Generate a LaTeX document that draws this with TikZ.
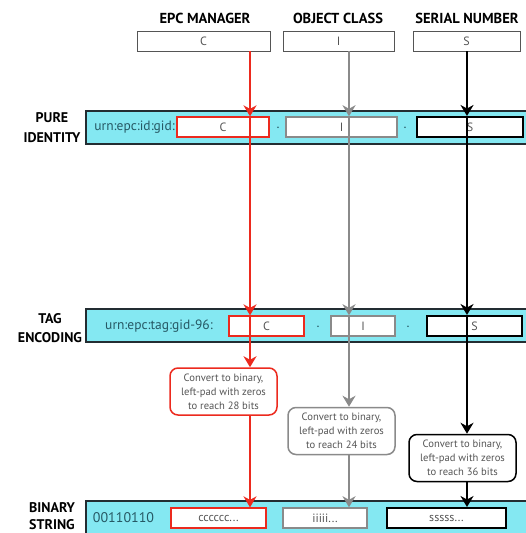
\documentclass[tikz,border=0pt]{standalone}
\usepackage{fontspec}
\setmainfont{PT Sans}
\usetikzlibrary{arrows.meta,positioning,calc}

\definecolor{bandcyan}{RGB}{132,232,242}
\definecolor{bandline}{RGB}{35,45,50}
\definecolor{epcred}{RGB}{236,42,30}
\definecolor{epcgray}{RGB}{138,138,138}
\definecolor{urnteal}{RGB}{38,88,100}
\definecolor{boxtext}{RGB}{85,85,85}

\begin{document}
\begin{tikzpicture}[
    x=1pt, y=-1pt,
    >={Stealth[length=11pt,width=13pt,inset=3.5pt]},
    font=\fontsize{12}{14}\selectfont,
    every node/.style={align=center, inner sep=0pt},
    headlabel/.style={font=\fontsize{14.5}{16}\selectfont\bfseries},
    rowlabel/.style={font=\fontsize{14}{19.5}\selectfont\bfseries},
    urnlabel/.style={text=urnteal, font=\fontsize{13.5}{15}\selectfont, anchor=east},
    bandbox/.style={draw=bandline, fill=bandcyan, line width=1.5pt, minimum width=460pt, minimum height=33pt, anchor=west},
    headbox/.style={draw=boxtext, fill=white, line width=0.9pt, minimum height=20pt, text=boxtext},
    fieldboxA/.style={draw=epcred, fill=white, line width=1.3pt, minimum height=20pt, text=boxtext},
    fieldboxB/.style={draw=epcgray, fill=white, line width=1.5pt, minimum height=20pt, text=boxtext},
    fieldboxC/.style={draw=black, fill=white, line width=2pt, minimum height=20pt, text=boxtext},
    convboxA/.style={draw=epcred, fill=white, line width=1.5pt, rounded corners=8pt, minimum width=107pt, minimum height=47pt, text=boxtext, font=\fontsize{10.6}{14}\selectfont},
    convboxB/.style={convboxA, draw=epcgray},
    convboxC/.style={convboxA, draw=black},
    dotsep/.style={text=urnteal, font=\bfseries},
    wireA/.style={draw=epcred, line width=1.6pt, ->},
    wireB/.style={draw=epcgray, line width=1.6pt, ->},
    wireC/.style={draw=black, line width=1.6pt, ->}
]

\useasboundingbox (0,0) rectangle (526,533);
\clip (0,0) rectangle (526,533);

% -------------------------------------------------
% FIELD HEADERS
% -------------------------------------------------
\node[headlabel] at (205, 18) {EPC MANAGER};
\node[headlabel] at (338, 18) {OBJECT CLASS};
\node[headlabel] at (467, 18) {SERIAL NUMBER};

\node[headbox, minimum width=133pt] (hC) at (203.5, 41) {C};
\node[headbox, minimum width=111pt] (hI) at (338.5, 41) {I};
\node[headbox, minimum width=107pt] (hS) at (466.5, 41) {S};

% wire columns
\coordinate (xC) at (250, 0);
\coordinate (xI) at (349, 0);
\coordinate (xS) at (467, 0);

% =================================================
% PURE IDENTITY
% =================================================
\node[rowlabel] at (52, 127.5) {PURE\\IDENTITY};
\node[bandbox] (pure) at (85, 127.5) {};
\node[urnlabel] at (175, 127) {urn:epc:id:gid:};
\node[fieldboxA, minimum width=92pt] (pC) at (223, 127) {C};
\node[dotsep] at (278, 128) {.};
\node[fieldboxB, minimum width=111pt] (pI) at (341.5, 127) {I};
\node[dotsep] at (405, 128) {.};
\node[fieldboxC, minimum width=106pt] (pS) at (470, 127) {S};

% =================================================
% TAG ENCODING
% =================================================
\node[rowlabel] at (50, 328) {TAG\\ENCODING};
\node[bandbox] (tag) at (85, 325.5) {};
\node[urnlabel] at (213, 326) {urn:epc:tag:gid-96:};
\node[fieldboxA, minimum width=75pt] (tC) at (266.5, 326) {C};
\node[dotsep] at (318, 327) {.};
\node[fieldboxB, minimum width=64pt] (tI) at (363, 326) {I};
\node[dotsep] at (408, 327) {.};
\node[fieldboxC, minimum width=95pt] (tS) at (474.5, 326) {S};

% -------------------------------------------------
% conversion steps
% -------------------------------------------------
\node[convboxA] (cvC) at (223.5, 391.5) {Convert to binary,\\left-pad with zeros\\to reach 28 bits};
\node[convboxB] (cvI) at (341.5, 431) {Convert to binary,\\left-pad with zeros\\to reach 24 bits};
\node[convboxC] (cvS) at (462.5, 458) {Convert to binary,\\left-pad with zeros\\to reach 36 bits};

% =================================================
% BINARY STRING
% =================================================
\node[rowlabel, font=\fontsize{14}{17}\selectfont\bfseries] at (52, 516) {BINARY\\STRING};
\node[bandbox, minimum height=44pt] (bin) at (85, 523) {};
\node[text=urnteal, font=\fontsize{14}{16}\selectfont] at (123.5, 518) {00110110};
\node[fieldboxA, minimum width=95pt] (bC) at (218.5, 518) {cccccc...};
\node[fieldboxB, minimum width=84pt] (bI) at (325, 518) {iiiii...};
\node[fieldboxC, minimum width=119pt] (bS) at (446.5, 518) {sssss...};

% -------------------------------------------------
% WIRES
% -------------------------------------------------
\draw[wireA] (hC.south -| xC) -- (pC.north -| xC);
\draw[wireA] (pC.north -| xC) -- (tC.north -| xC);
\draw[wireA] (tC.north -| xC) -- (cvC.north -| xC);
\draw[wireA] (cvC.south -| xC) -- (bC.north -| xC);

\draw[wireB] (hI.south -| xI) -- (pI.north -| xI);
\draw[wireB] (pI.north -| xI) -- (tI.north -| xI);
\draw[wireB] (tI.north -| xI) -- (cvI.north -| xI);
\draw[wireB] (cvI.south -| xI) -- (bI.north -| xI);

\draw[wireC] (hS.south -| xS) -- (pS.north -| xS);
\draw[wireC] (pS.north -| xS) -- (tS.north -| xS);
\draw[wireC] (tS.north -| xS) -- (cvS.north -| xS);
\draw[wireC] (cvS.south -| xS) -- (bS.north -| xS);

\end{tikzpicture}
\end{document}
